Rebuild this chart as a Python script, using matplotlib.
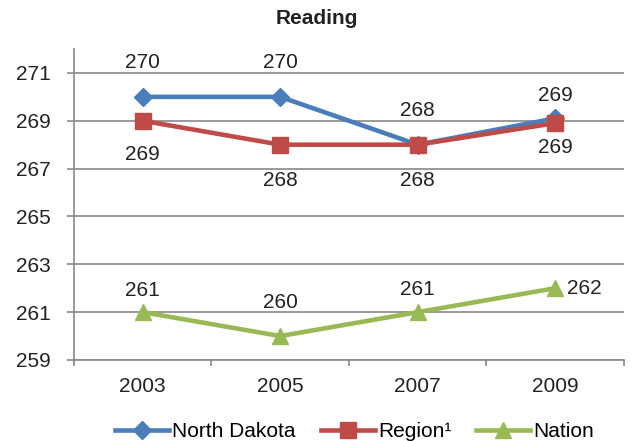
import matplotlib.pyplot as plt
from matplotlib.ticker import FixedLocator

plt.rcParams['font.family'] = ['Liberation Sans', 'DejaVu Sans']

# data
years = ['2003', '2005', '2007', '2009']
north_dakota = [270, 270, 268, 269.1]
region = [269, 268, 268, 268.9]
nation = [261, 260, 261, 262]
nd_labels = ['270', '270', '268', '269']
region_labels = ['269', '268', '268', '269']
nation_labels = ['261', '260', '261', '262']

# label offsets in pixels (dx, dy)
nd_off = [(0, 34), (0, 34), (0, 34), (0, 23)]
region_off = [(0, -34), (0, -36), (0, -36), (0, -24)]
nation_off = [(0, 22), (0, 34), (0, 23), (29, 0)]

fig = plt.figure(figsize=(6.34, 4.41), dpi=100)
ax = fig.add_axes([0.1167, 0.1837, 0.8675, 0.7052])

x = range(len(years))
ax.plot(x, north_dakota, color='#4A7EBB', lw=3.3, marker='D', ms=9, label='North Dakota', zorder=3)
ax.plot(x, region, color='#BE4B48', lw=3.3, marker='s', ms=11.5, label='Region\u00b9', zorder=3)
ax.plot(x, nation, color='#98B954', lw=3.3, marker='^', ms=12, label='Nation', zorder=3)

def put_labels(vals, labels, offs):
    for i, (v, t, o) in enumerate(zip(vals, labels, offs)):
        ax.annotate(t, (i, v), xytext=(o[0] * 0.72, o[1] * 0.72), textcoords='offset points',
                    ha='center', va='center', fontsize=15, color='#222222')

put_labels(north_dakota, nd_labels, nd_off)
put_labels(region, region_labels, region_off)
put_labels(nation, nation_labels, nation_off)

ax.set_xlim(-0.5, 3.5)
ax.set_ylim(259, 272.0)
ax.set_yticks([259, 261, 263, 265, 267, 269, 271])
ax.set_xticks(list(x))
ax.set_xticklabels(years)
ax.xaxis.set_minor_locator(FixedLocator([-0.5, 0.5, 1.5, 2.5, 3.5]))
ax.tick_params(axis='y', length=5, width=1.2, color='#888888', labelsize=15, labelcolor='#222222', pad=12)
ax.tick_params(axis='x', which='major', length=0, labelsize=15, labelcolor='#222222', pad=12)
ax.tick_params(axis='x', which='minor', length=4, width=1.2, color='#888888')
ax.yaxis.grid(True, color='#888888', lw=1.2)
ax.set_axisbelow(True)
for s in ['top', 'right']:
    ax.spines[s].set_visible(False)
for s in ['left', 'bottom']:
    ax.spines[s].set_color('#888888')
    ax.spines[s].set_linewidth(1.2)

fig.text(0.5, 0.958, 'Reading', fontsize=15, fontweight='bold', color='#222222',
         ha='center', va='center')

ax.legend(loc='upper center', bbox_to_anchor=(0.51, -0.14), ncol=3, frameon=False,
          fontsize=15, handlelength=2.6, columnspacing=1.2, handletextpad=0.15)

fig.savefig('out.png', dpi=100)
